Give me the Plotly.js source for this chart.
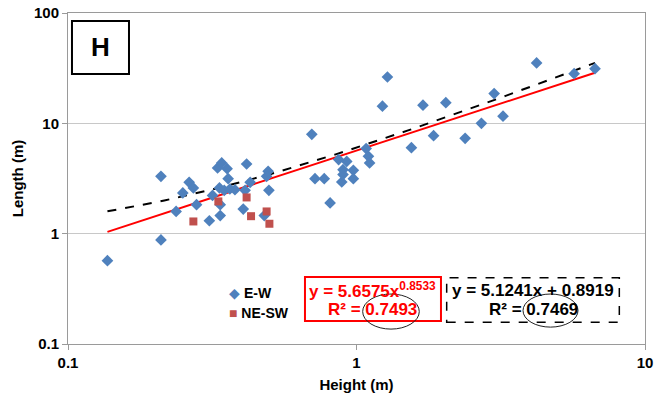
<!DOCTYPE html>
<html>
<head>
<meta charset="utf-8">
<script src="https://cdn.plot.ly/plotly-3.0.1.min.js"></script>
<style>html,body{margin:0;padding:0;background:#fff;}#chart{width:657px;height:402px;}</style>
</head>
<body>
<div id="chart"></div>
<script>
// E-W series (Height m, Length m)
const ewHeight = [0.137,0.210,0.210,0.237,0.250,0.263,0.272,0.279,0.309,0.317,0.330,0.341,0.335,0.337,0.337,0.348,0.356,0.359,0.364,0.379,0.405,0.411,0.416,0.428,0.479,0.494,0.488,0.497,0.70,0.718,0.773,0.810,0.867,0.889,0.898,0.898,0.925,0.975,0.975,1.08,1.10,1.11,1.23,1.28,1.55,1.70,1.85,2.04,2.38,2.71,3.00,3.22,4.21,5.68,6.71];
const ewLength = [0.569,3.31,0.877,1.59,2.34,2.92,2.60,1.83,1.31,2.22,3.94,4.38,2.60,1.83,1.46,2.47,3.88,3.15,2.54,2.50,1.67,2.47,4.28,2.92,1.46,3.67,3.31,2.47,7.95,3.15,3.15,1.90,4.69,2.94,3.80,3.43,4.52,3.75,3.15,5.90,5.02,4.38,14.3,26.3,6.02,14.6,7.73,15.4,7.31,10.0,18.6,11.6,35.3,28.2,31.3];
// NE-SW series
const neHeight = [0.272,0.332,0.416,0.431,0.488,0.499];
const neLength = [1.29,1.96,2.13,1.44,1.59,1.23];
// Trendline coefficients as printed on the chart
const powA = 5.6575, powB = 0.8533, powR2 = "0.7493";
const linM = 5.1241, linC = 0.8919, linR2 = "0.7469";
const xTicks = [0.1, 1, 10];
const xTickText = ["0.1", "1", "10"];
const yTicks = [0.1, 1, 10, 100];
const yTickText = ["0.1", "1", "10", "100"];
const seriesNames = ["E-W", "NE-SW"];

const xmin = Math.min(...ewHeight, ...neHeight);
const xmax = Math.max(...ewHeight, ...neHeight);
const trendX = [];
for (let i = 0; i <= 60; i++) trendX.push(xmin * Math.pow(xmax / xmin, i / 60));
const powY = trendX.map(x => powA * Math.pow(x, powB));
const linY = trendX.map(x => linM * x + linC);

const FONT = "Liberation Sans, Arial, sans-serif";
const BLUE = "#4f81bd", RED = "#c0504d";
const traces = [
  {x: trendX, y: linY, mode: "lines", line: {color: "#000", width: 2, dash: "dash"}, showlegend: false, hoverinfo: "skip"},
  {x: trendX, y: powY, mode: "lines", line: {color: "#ff0000", width: 2}, showlegend: false, hoverinfo: "skip"},
  {x: ewHeight, y: ewLength, mode: "markers", name: seriesNames[0], showlegend: false, marker: {symbol: "diamond", size: 9, color: BLUE}},
  {x: neHeight, y: neLength, mode: "markers", name: seriesNames[1], showlegend: false, marker: {symbol: "square", size: 8, color: RED}}
];

function ann(x, y, text, size, color, xanchor) {
  return {xref: "paper", yref: "paper", x: x, y: y, text: text, showarrow: false,
    xanchor: xanchor || "center", yanchor: "middle", font: {family: FONT, size: size, color: color}};
}

const layout = {
  width: 657, height: 402,
  margin: {l: 68, r: 12, t: 13, b: 58},
  paper_bgcolor: "#fff", plot_bgcolor: "#fff",
  font: {family: FONT, color: "#000"},
  showlegend: false,
  xaxis: {type: "log", range: [-1, 1], tickvals: xTicks, ticktext: xTickText.map(t => "<b>" + t + "</b>"), showgrid: false,
    showline: true, linecolor: "#9a9a9a", linewidth: 1, mirror: true, ticks: "outside", ticklen: 5, tickcolor: "#9a9a9a",
    tickfont: {family: FONT, size: 15, color: "#000"},
    title: {text: "<b>Height (m)</b>", font: {family: FONT, size: 15, color: "#000"}, standoff: 9}, zeroline: false},
  yaxis: {type: "log", range: [-1, 2], tickvals: yTicks, ticktext: yTickText.map(t => "<b>" + t + "</b>"), showgrid: true, gridcolor: "#c8c8c8",
    showline: true, linecolor: "#9a9a9a", linewidth: 1, mirror: true, ticks: "outside", ticklen: 5, tickcolor: "#9a9a9a",
    tickfont: {family: FONT, size: 15, color: "#000"},
    title: {text: "<b>Length (m)</b>", font: {family: FONT, size: 15, color: "#000"}, standoff: 6}, zeroline: false},
  shapes: [
    {type: "rect", xref: "paper", yref: "paper", x0: 0.0069, x1: 0.1057, y0: 0.8157, y1: 0.9758, line: {color: "#000", width: 2}, fillcolor: "#fff"},
    {type: "rect", xref: "paper", yref: "paper", x0: 0.4107, x1: 0.6464, y0: 0.0695, y1: 0.2024, line: {color: "#ff0000", width: 2}, fillcolor: "#fff", layer: "below"},
    {type: "rect", xref: "paper", yref: "paper", x0: 0.6563, x1: 0.9555, y0: 0.0656, y1: 0.2003, line: {color: "#000", width: 1.5, dash: "dash"}, fillcolor: "#fff", layer: "below"},
    {type: "circle", xref: "paper", yref: "paper", x0: 0.5107, x1: 0.6088, y0: 0.045, y1: 0.151, line: {color: "#222", width: 1}},
    {type: "circle", xref: "paper", yref: "paper", x0: 0.7886, x1: 0.8839, y0: 0.051, y1: 0.151, line: {color: "#222", width: 1}}
  ],
  annotations: [
    ann(0.0563, 0.896, "<b>H</b>", 26, "#000"),
    ann(0.528, 0.163, "<b>y = " + powA + "x<sup>" + powB + "</sup></b>", 17, "#ff0000"),
    ann(0.528, 0.105, "<b>R² = " + powR2 + "</b>", 17, "#ff0000"),
    ann(0.806, 0.163, "<b>y = " + linM + "x + " + linC + "</b>", 17, "#000"),
    ann(0.806, 0.105, "<b>R² = " + linR2 + "</b>", 17, "#000"),
    ann(0.276, 0.1545, "<span style='color:" + BLUE + "'>◆</span> <b>" + seriesNames[0] + "</b>", 14, "#000", "left"),
    ann(0.276, 0.095, "<span style='color:" + RED + "'>■</span> <b>" + seriesNames[1] + "</b>", 14, "#000", "left")
  ]
};

Plotly.newPlot("chart", traces, layout, {displayModeBar: false, staticPlot: true});
</script>
</body>
</html>
